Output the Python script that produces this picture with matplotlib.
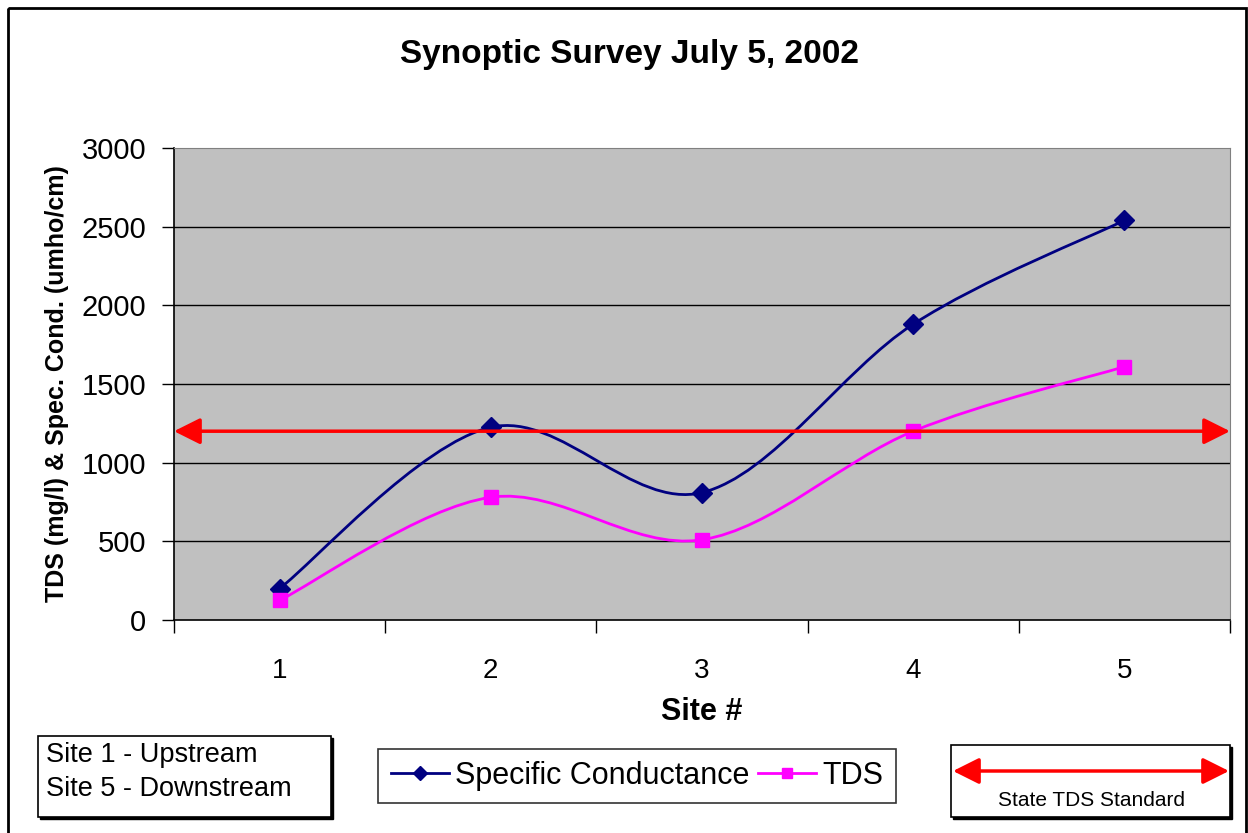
import numpy as np
import matplotlib
matplotlib.use('Agg')
import matplotlib.pyplot as plt
from matplotlib.path import Path
from matplotlib.patches import PathPatch, Rectangle
from matplotlib.lines import Line2D

plt.rcParams['font.family'] = ['Liberation Sans', 'DejaVu Sans']

sites = [1, 2, 3, 4, 5]
site_labels = ['1', '2', '3', '4', '5']
spec_cond = [200, 1225, 810, 1880, 2540]
tds = [125, 780, 510, 1200, 1610]
tds_standard = 1200
y_ticks = [0, 500, 1000, 1500, 2000, 2500, 3000]

W, H = 1248, 833


def smooth_path(x, y):
	# Excel-style smoothed line: Catmull-Rom as cubic Bezier segments
	p = np.column_stack([x, y]).astype(float)
	n = len(p)
	verts = [p[0]]
	codes = [Path.MOVETO]
	for i in range(n - 1):
		p_prev = p[i - 1] if i > 0 else p[i]
		p_next = p[i + 2] if i + 2 < n else p[i + 1]
		c1 = p[i] + (p[i + 1] - p_prev) / 6
		c2 = p[i + 1] - (p_next - p[i]) / 6
		verts += [c1, c2, p[i + 1]]
		codes += [Path.CURVE4] * 3
	return Path(verts, codes)


fig = plt.figure(figsize=(W / 100, H / 100), dpi=100)
ax = fig.add_axes([174 / W, 1 - 620 / H, (1230 - 174) / W, (620 - 148) / H])
ax.set_facecolor('#C0C0C0')

for yv in y_ticks[1:-1]:
	ax.axhline(yv, color='black', lw=1, zorder=1)

for vals, col, mk, ms in [(spec_cond, '#000080', 'D', 10), (tds, '#FF00FF', 's', 10)]:
	ax.add_patch(PathPatch(smooth_path(sites, vals), facecolor='none', edgecolor=col, lw=2, zorder=3))
	ax.plot(sites, vals, linestyle='none', marker=mk, ms=ms, color=col, zorder=4)

ax.annotate('', xy=(0.5, tds_standard), xytext=(5.5, tds_standard),
			arrowprops=dict(arrowstyle='<|-|>,head_length=0.8,head_width=0.4', mutation_scale=20,
							color='#FF0000', lw=2.5, shrinkA=0, shrinkB=0), zorder=5)

ax.set_xlim(0.5, 5.5)
ax.set_ylim(0, 3000)
ax.set_yticks(y_ticks)
ax.set_yticklabels([str(v) for v in y_ticks], fontsize=21)
ax.set_xticks(sites)
ax.set_xticklabels(site_labels, fontsize=20)
ax.set_xticks(np.arange(0.5, 6.0, 1.0), minor=True)
ax.tick_params(axis='x', which='major', length=0, pad=27)
ax.tick_params(axis='x', which='minor', length=9, width=1, direction='out')
ax.tick_params(axis='y', length=9, width=1, direction='out', pad=11)
for side in ['top', 'right']:
	ax.spines[side].set_color('#808080')
for side in ['left', 'bottom']:
	ax.spines[side].set_color('black')
	ax.spines[side].set_linewidth(1.2)

ax.set_xlabel('Site #', fontsize=22, fontweight='bold', labelpad=10)
ax.set_ylabel('TDS (mg/l) & Spec. Cond. (umho/cm)', fontsize=18, fontweight='bold', labelpad=9)
fig.text(630 / W, 1 - 55 / H, 'Synoptic Survey July 5, 2002', fontsize=24, fontweight='bold',
		 ha='center', va='center')

# overlay in pixel coordinates for frame and side boxes
ov = fig.add_axes([0, 0, 1, 1], facecolor='none')
ov.set_xlim(0, W)
ov.set_ylim(H, 0)
ov.axis('off')
ov.add_patch(Rectangle((8, 8), 1238, 840, fill=False, edgecolor='black', lw=2))

for x0, y0, w, h in [(38, 736, 293, 81), (951, 745, 279, 72)]:
	ov.add_patch(Rectangle((x0 + 2, y0 + 2), w, h, facecolor='black', edgecolor='black', lw=1))
	ov.add_patch(Rectangle((x0, y0), w, h, facecolor='white', edgecolor='black', lw=1.2))

ov.text(46, 755, 'Site 1 - Upstream', fontsize=19.5, va='center', ha='left')
ov.text(46, 789, 'Site 5 - Downstream', fontsize=19.5, va='center', ha='left')

ov.annotate('', xy=(953, 771), xytext=(1229, 771),
			arrowprops=dict(arrowstyle='<|-|>,head_length=0.8,head_width=0.4', mutation_scale=20,
							color='#FF0000', lw=2.5, shrinkA=0, shrinkB=0))
ov.text(1092, 800, 'State TDS Standard', fontsize=15, ha='center', va='center')

handles = [Line2D([], [], color='#000080', lw=2, marker='D', ms=7),
		   Line2D([], [], color='#FF00FF', lw=2, marker='s', ms=7)]
leg = fig.legend(handles, ['Specific Conductance', 'TDS'], loc='center',
				 bbox_to_anchor=(637 / W, 1 - 776 / H), ncol=2, fontsize=22, frameon=True,
				 fancybox=False, edgecolor='black', handlelength=1.9, handletextpad=0.2,
				 columnspacing=0.3, borderpad=0.4, borderaxespad=0)
leg.get_frame().set_linewidth(1.2)

fig.savefig('out.png', dpi=100)
